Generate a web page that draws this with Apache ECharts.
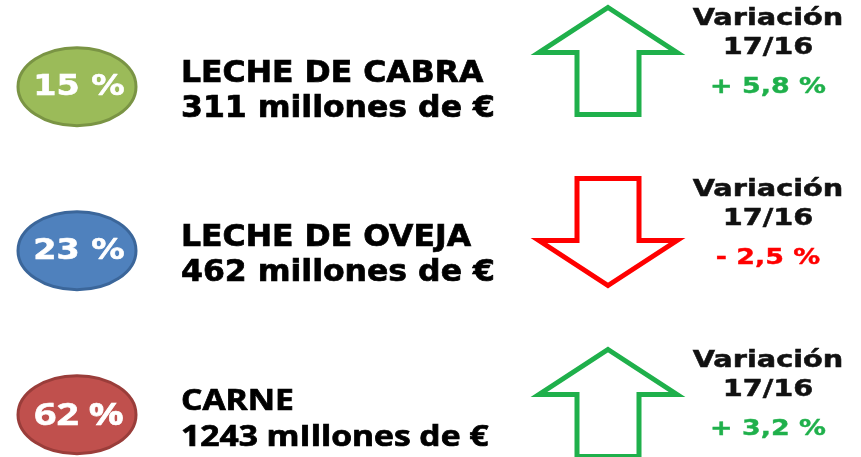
<!DOCTYPE html>
<html>
<head>
<meta charset="utf-8">
<script src="https://cdn.jsdelivr.net/npm/echarts@6/dist/echarts.min.js"></script>
<style>
html,body{margin:0;padding:0;background:#fff;}
#chart{width:861px;height:457px;}
</style>
</head>
<body>
<div id="chart"></div>
<script>
// ---- data ----
const categories = ['LECHE DE CABRA', 'LECHE DE OVEJA', 'CARNE'];
const shares = [15, 23, 62];              // % of total
const valuesMillions = [311, 462, 1243];  // millones de €
const unitLabels = ['millones de €', 'millones de €', 'mIllones de €'];
const variations = [5.8, -2.5, 3.2];      // variación 17/16, %
const variationTitle = 'Variación';
const periodLabel = '17/16';

// ---- styles ----
const ellipseFill = ['#9bbb59', '#4f81bd', '#c0504d'];
const ellipseStroke = ['#7a9444', '#3b669a', '#9a3d3a'];
const upColor = '#1fb04b';
const downColor = '#ff0000';
const labelStyle = [
  { font: 'DejaVu Sans', size: 30, sx: 1.05, pctSize: 29, pctSx: 1.15 },
  { font: 'DejaVu Sans', size: 30, sx: 1.05, pctSize: 29, pctSx: 1.15 },
  { font: 'Open Sans', size: 28, sx: 1.2, pctSize: 31, pctSx: 1.25 }
];

const W = 861, H = 457;
const leftStart = 86.7, leftStep = 164;
const rightStart = 60.5, rightStep = 171;

function fmtVar(v) {
  return (v >= 0 ? '+ ' : '- ') + Math.abs(v).toFixed(1).replace('.', ',') + ' %';
}

function txt(x, y, sx, text, fill, font, align, bold) {
  return { type: 'text', x: x, y: y, scaleX: sx,
    style: { text: text, fill: fill, font: font, align: align, verticalAlign: 'middle',
             stroke: fill, lineWidth: bold } };
}

function renderLeft(params, api) {
  const i = api.value(1);
  const p = api.coord([0, i]);
  const yc = p[1];
  const cx = 77;
  const st = labelStyle[i];
  const f = 'bold ' + st.size + 'px "' + st.font + '"';
  return {
    type: 'group',
    children: [
      { type: 'ellipse', shape: { cx: cx, cy: yc, rx: 59, ry: 39 },
        style: { fill: ellipseFill[i], stroke: ellipseStroke[i], lineWidth: 3 } },
      txt(cx + 2, yc + 1, st.pctSx, shares[i] + ' %', '#ffffff',
          'bold ' + st.pctSize + 'px "' + st.font + '"', 'center', 0.6),
      txt(181, yc - 12.4, st.sx, categories[i], '#000000', f, 'left', 0.7),
      txt(181, yc + 23, st.sx, valuesMillions[i] + ' ' + unitLabels[i], '#000000', f, 'left', 0.7)
    ]
  };
}

function renderRight(params, api) {
  const i = api.value(1);
  const v = api.value(2);
  const p = api.coord([0, i]);
  const ya = p[1];
  const cx = 608;
  const top = ya - 53, bottom = ya + 54;
  const headH = 45, hh = 69, hs = 31;
  const up = v >= 0;
  const color = up ? upColor : downColor;
  let pts;
  if (up) {
    pts = [[cx, top], [cx + hh, top + headH], [cx + hs, top + headH], [cx + hs, bottom],
           [cx - hs, bottom], [cx - hs, top + headH], [cx - hh, top + headH]];
  } else {
    pts = [[cx, bottom], [cx + hh, bottom - headH], [cx + hs, bottom - headH], [cx + hs, top],
           [cx - hs, top], [cx - hs, bottom - headH], [cx - hh, bottom - headH]];
  }
  const tx = 768;
  return {
    type: 'group',
    children: [
      { type: 'polygon', shape: { points: pts },
        style: { fill: '#ffffff', stroke: color, lineWidth: 5, lineJoin: 'miter' } },
      txt(tx, ya - 41, 1.25, variationTitle, '#111111', 'bold 23px "DejaVu Sans"', 'center', 0.5),
      txt(tx, ya - 12, 1.25, periodLabel, '#111111', 'bold 23px "DejaVu Sans"', 'center', 0.5),
      txt(tx, ya + 27, 1.28, fmtVar(v), color, 'bold 21px "DejaVu Sans"', 'center', 0.4)
    ]
  };
}

const chart = echarts.init(document.getElementById('chart'), null, { renderer: 'canvas' });
chart.setOption({
  animation: false,
  backgroundColor: '#ffffff',
  grid: { left: 0, right: 0, top: 0, bottom: 0 },
  xAxis: { type: 'value', min: 0, max: W, show: false },
  yAxis: [
    { type: 'value', min: -leftStart / leftStep, max: (H - leftStart) / leftStep, inverse: true, show: false },
    { type: 'value', min: -rightStart / rightStep, max: (H - rightStart) / rightStep, inverse: true, show: false }
  ],
  series: [
    { type: 'custom', yAxisIndex: 0, clip: false,
      data: categories.map((c, i) => [0, i]), renderItem: renderLeft },
    { type: 'custom', yAxisIndex: 1, clip: false,
      data: variations.map((v, i) => [0, i, v]), renderItem: renderRight }
  ]
});
</script>
</body>
</html>
